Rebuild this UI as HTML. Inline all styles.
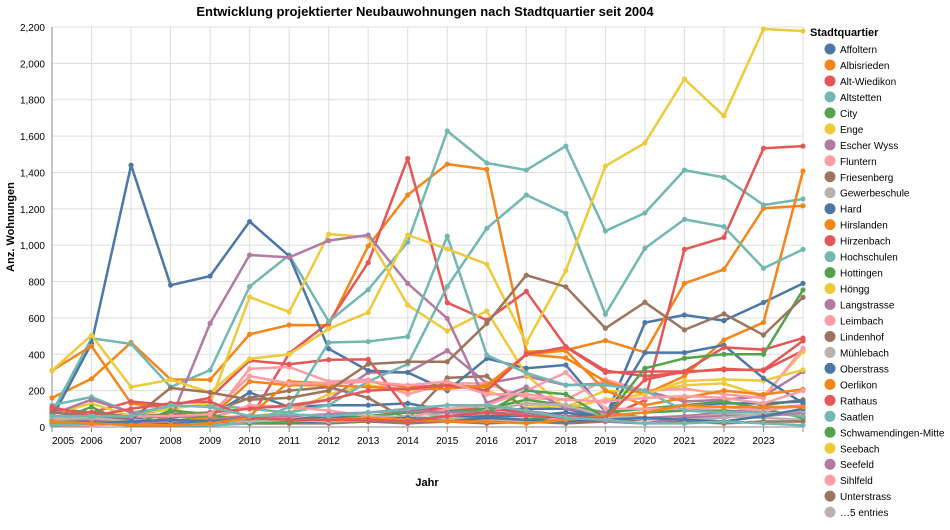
<!DOCTYPE html>
<html><head><meta charset="utf-8"><style>
body{margin:0;background:#fff;font-family:"Liberation Sans",sans-serif}
svg text{font-family:"Liberation Sans",sans-serif}
</style></head><body>
<svg id="chart" width="950" height="525" xmlns="http://www.w3.org/2000/svg">
<text x="425" y="16" text-anchor="middle" font-size="13" font-weight="bold" fill="#000">Entwicklung projektierter Neubauwohnungen nach Stadtquartier seit 2004</text>
<g id="grid"></g>
<g id="axes"></g>
<g id="series"></g>
<g id="legend"></g>
<text x="427" y="486" text-anchor="middle" font-size="11" font-weight="bold">Jahr</text>
<text transform="translate(14,227) rotate(-90)" text-anchor="middle" font-size="11" font-weight="bold">Anz. Wohnungen</text>
</svg>
<script>
const years = [2005,2006,2007,2008,2009,2010,2011,2012,2013,2014,2015,2016,2017,2018,2019,2020,2021,2022,2023,2024];
const yTicks = [0,200,400,600,800,1000,1200,1400,1600,1800,2000,2200];
const names = ["Affoltern","Albisrieden","Alt-Wiedikon","Altstetten","City","Enge","Escher Wyss","Fluntern","Friesenberg","Gewerbeschule","Hard","Hirslanden","Hirzenbach","Hochschulen","Hottingen","Höngg","Langstrasse","Leimbach","Lindenhof","Mühlebach","Oberstrass","Oerlikon","Rathaus","Saatlen","Schwamendingen-Mitte","Seebach","Seefeld","Sihlfeld","Unterstrass","Weinegg","Werd","Wipkingen","Witikon","Wollishofen"];
const legendNames = names.slice(0,29).concat(["…5 entries"]);
const palette = ["#4c78a8","#f58518","#e45756","#72b7b2","#54a24b","#eeca3b","#b279a2","#ff9da6","#9d755d","#bab0ac"];
const vAffoltern=[30,40,50,20,60,190,110,120,120,130,90,90,100,100,50,574,616,585,685,790];
const vAlbisrieden=[160,265,465,262,260,510,561,560,995,1276,1446,1417,414,423,475,411,790,867,1203,1217];
const vAltWiedikon=[40,30,20,20,30,40,405,574,904,1477,684,588,746,442,310,280,300,320,310,420];
const vAltstetten=[80,488,457,220,313,772,946,580,755,1017,1628,1452,1413,1545,1078,1177,1413,1373,1221,1254];
const vCity=[20,20,20,20,30,20,20,30,30,40,30,30,40,60,60,80,90,90,80,60];
const vEnge=[60,40,30,20,30,60,80,180,230,200,240,200,120,110,200,188,230,240,170,415];
const vEscherWyss=[20,30,60,60,50,110,110,150,300,300,420,240,280,230,240,200,140,150,170,306];
const vFluntern=[40,40,30,30,40,320,330,250,260,180,240,240,160,150,260,200,210,180,160,433];
const vFriesenberg=[90,80,60,70,80,160,200,220,160,40,270,280,90,60,40,40,60,60,120,150];
const vGewerbeschule=[20,30,20,30,40,30,40,50,60,80,60,70,60,50,60,40,50,60,50,40];
const vHard=[50,460,1440,780,830,1130,940,430,310,300,200,377,323,341,84,100,120,130,130,140];
const vHirslanden=[310,445,130,100,50,250,230,230,220,210,210,230,400,380,250,180,280,479,575,1408];
const vHirzenbach=[100,80,140,120,160,365,345,370,372,90,100,100,80,60,50,148,977,1043,1533,1545];
const vHochschulen=[120,165,80,110,120,100,80,120,250,346,772,1093,1276,1175,620,983,1142,1102,873,977];
const vHottingen=[30,30,20,30,60,40,40,50,60,80,80,100,150,120,80,100,120,140,100,50];
const vHoengg=[70,130,60,100,130,715,633,1061,1045,671,528,638,286,105,150,180,253,262,255,314];
const vLangstrasse=[70,150,80,40,570,946,933,1025,1056,790,597,131,220,100,80,50,60,80,100,120];
const vLeimbach=[10,10,20,20,40,120,110,90,60,50,100,120,200,300,100,100,100,110,90,120];
const vLindenhof=[10,20,10,20,10,20,20,20,30,20,30,20,30,20,30,20,30,20,30,30];
const vMuehlebach=[30,20,40,30,20,60,50,40,50,60,40,90,130,120,60,40,50,70,60,80];
const vOberstrass=[20,30,20,20,30,40,30,30,40,30,50,60,60,80,50,409,409,450,268,131];
const vOerlikon=[20,20,20,30,50,60,250,240,250,220,230,220,400,420,200,120,160,200,179,207];
const vRathaus=[50,40,60,50,80,100,120,150,200,210,230,200,400,440,300,305,305,438,425,489];
const vSaatlen=[10,20,10,10,10,20,110,465,470,497,1050,396,297,231,231,200,90,80,80,60];
const vSchwamendingen=[30,110,10,90,70,20,30,40,40,40,60,80,200,180,50,323,378,400,400,754];
const vSeebach=[310,505,220,260,190,375,400,540,630,1056,979,896,462,860,1435,1562,1914,1711,2189,2178];
const vSeefeld=[50,40,30,30,40,60,60,70,80,90,80,80,70,60,30,20,50,60,60,80];
const vSihlfeld=[50,50,60,60,70,280,240,240,250,230,250,180,180,150,140,160,170,160,130,200];
const vUnterstrass=[80,60,40,215,190,150,160,200,346,359,359,570,835,771,543,686,534,622,506,713];
const vWeinegg=[40,50,30,40,30,30,40,30,40,30,50,40,30,40,60,50,40,50,70,90];
const vWerd=[30,20,30,40,30,50,40,60,40,50,30,50,40,30,40,50,40,30,60,100];
const vWipkingen=[30,20,10,10,20,50,40,40,50,40,30,30,20,40,60,80,120,110,110,110];
const vWitikon=[110,60,100,130,140,50,40,40,40,30,60,80,60,50,50,260,305,314,314,474];
const vWollishofen=[60,60,60,120,110,60,70,60,80,100,120,120,90,50,40,20,20,30,20,10];
const values=[vAffoltern,vAlbisrieden,vAltWiedikon,vAltstetten,vCity,vEnge,vEscherWyss,vFluntern,vFriesenberg,vGewerbeschule,vHard,vHirslanden,vHirzenbach,vHochschulen,vHottingen,vHoengg,vLangstrasse,vLeimbach,vLindenhof,vMuehlebach,vOberstrass,vOerlikon,vRathaus,vSaatlen,vSchwamendingen,vSeebach,vSeefeld,vSihlfeld,vUnterstrass,vWeinegg,vWerd,vWipkingen,vWitikon,vWollishofen];

const NS="http://www.w3.org/2000/svg";
const X0=52,X1=803,Y0=427,Y1=27;
function xs(yr){return X0+(yr-years[0])/(years[years.length-1]-years[0])*(X1-X0);}
function ys(v){return Y0-(v/2200)*(Y0-Y1);}
function mk(tag,attrs,parent){const e=document.createElementNS(NS,tag);for(const k in attrs)e.setAttribute(k,attrs[k]);parent.appendChild(e);return e;}
const grid=document.getElementById('grid'),axes=document.getElementById('axes'),ser=document.getElementById('series'),leg=document.getElementById('legend');
yTicks.forEach(t=>{
  const l=mk('line',{x1:X0,x2:X1,y1:ys(t),y2:ys(t),stroke:'#ddd','stroke-width':1},grid);
  
  
  const tx=mk('text',{x:X0-7,y:ys(t)+4,'text-anchor':'end','font-size':10,fill:'#000'},axes);
  tx.textContent=t.toLocaleString('en-US');
  
  
});
years.forEach((yr,i)=>{
  const l=mk('line',{x1:xs(yr),x2:xs(yr),y1:Y1,y2:Y0,stroke:'#ddd','stroke-width':1},grid);
  
  
  mk('line',{x1:xs(yr),x2:xs(yr),y1:Y0,y2:Y0+5,stroke:'#888'},axes);
  if(i<years.length-1){
    const tx=mk('text',{x:xs(yr),y:Y0+17,'text-anchor':i==0?'start':'middle','font-size':10},axes);
    tx.textContent=yr;
    
    
  }
});
mk('line',{x1:X0,x2:X1,y1:Y0,y2:Y0,stroke:'#888'},axes);
mk('line',{x1:X0,x2:X0,y1:Y1,y2:Y0,stroke:'#888'},axes);
values.forEach((vals,s)=>{
  const c=palette[s%10];
  const g=mk('g',{},ser);
  
  
  const d=vals.map((v,i)=>(i?'L':'M')+xs(years[i]).toFixed(1)+','+ys(v).toFixed(1)).join('');
  const p=mk('path',{d:d,fill:'none',stroke:c,'stroke-width':2.5,'stroke-linejoin':'round'},g);
  
  
  vals.forEach((v,i)=>{
    const pt=mk('circle',{cx:xs(years[i]),cy:ys(v),r:2.6,fill:c},g);
    
    
  });
});
const lt=mk('text',{x:810,y:36,'font-size':11,'font-weight':'bold'},leg);
lt.textContent='Stadtquartier';


legendNames.forEach((n,i)=>{
  const y=49+i*15.97;
  const g=mk('g',{},leg);
  
  
  mk('circle',{cx:830,cy:y,r:5.5,fill:i<29?palette[i%10]:'#bab0ac'},g);
  const t=mk('text',{x:840,y:y+4,'font-size':10},g);
  t.textContent=n;
});
</script>
</body></html>
